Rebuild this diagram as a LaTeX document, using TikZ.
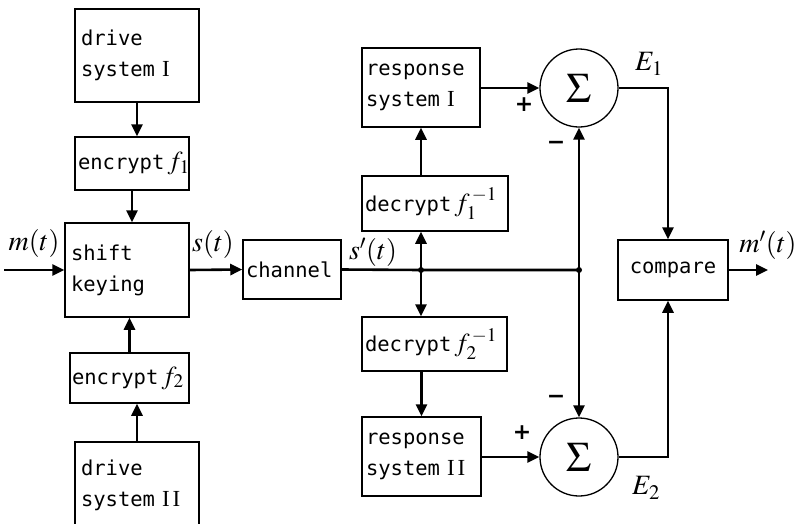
\documentclass[tikz,border=0pt]{standalone}
\usepackage{mathptmx}
\usepackage{fontspec}
\setmonofont{DejaVu Sans Mono}
\newfontfamily\rmn{Liberation Serif}
\newfontfamily\sansf{DejaVu Sans}
\usetikzlibrary{arrows.meta}
\tikzset{
 box/.style={draw,line width=1.5pt,inner xsep=6pt,inner ysep=0pt,align=left,font=\fontsize{20.5}{31}\selectfont\ttfamily},
 sumnode/.style={draw,circle,line width=1.3pt,minimum size=78pt,inner sep=0pt,font=\fontsize{42}{42}\selectfont},
 conn/.style={line width=2.6pt,-{Triangle[length=12pt,width=11pt]}},
 wire/.style={line width=2.6pt},
 lab/.style={font=\fontsize{28}{28}\selectfont,inner sep=0pt},
 sign/.style={font=\fontsize{22}{22}\selectfont\sansf\bfseries,inner sep=0pt},
 jdot/.style={circle,fill,inner sep=0pt,minimum size=6pt}
}
\newcommand{\bigf}[1]{{\fontsize{26}{26}\selectfont$#1$}}
\newcommand{\rnum}[1]{\hspace{7pt}{\fontsize{23}{23}\selectfont\rmn #1}}
\begin{document}
\begin{tikzpicture}[x=1pt,y=-1pt]
\useasboundingbox (0,0) rectangle (801,523);
\clip (0,0) rectangle (801,523);
% left column
\node[box,text width=112pt,minimum height=93pt] (d1) at (137,55.5) {drive\\system\rnum{I}};
\node[box,text width=102pt,minimum height=53pt,inner xsep=3pt,text width=108pt] (e1) at (132,163.5) {encrypt\,\bigf{f_1}};
\node[box,text width=112pt,minimum height=94pt] (sk) at (127,270) {shift\\keying};
\node[box,minimum height=50pt,inner xsep=2pt,text width=115pt] (e2) at (129.5,378) {encrypt\,\bigf{f_2}};
\node[box,text width=112pt,minimum height=86pt] (d2) at (137,485) {drive\\system\rnum{I\hspace{3pt}I}};
% channel
\node[box,text width=92pt,inner xsep=3pt,minimum height=59pt] (ch) at (292,269.5) {channel};
% receivers
\node[box,text width=110pt,inner xsep=4pt,minimum height=79pt] (r1) at (421,87.5) {response\\system\rnum{I}};
\node[box,text width=140pt,inner xsep=3pt,minimum height=55pt] (df1) at (435,203.5) {decrypt\,\bigf{f_1^{\,-1}}};
\node[box,text width=139pt,inner xsep=3pt,minimum height=54pt] (df2) at (434.5,344) {decrypt\,\bigf{f_2^{\,-1}}};
\node[box,text width=111pt,inner xsep=4pt,minimum height=79pt] (r2) at (421.5,456.5) {response\\system\rnum{I\hspace{3pt}I}};
% sums and compare
\node[sumnode] (s1) at (579,88) {$\Sigma$};
\node[sumnode] (s2) at (579,457) {$\Sigma$};
\node[box,text width=98pt,minimum height=60pt,align=center] (cmp) at (673,270) {compare};
% junctions and free ends
\node[jdot] (j1) at (421,270) {};
\node[jdot] (j2) at (579,270) {};
\coordinate (in) at (4,270);
\coordinate (out) at (768,270);
% connectors left
\draw[conn] (d1.south) -- (d1.south |- e1.north);
\draw[conn] (e1.south) -- (e1.south |- sk.north);
\draw[conn] (e2.north) -- (e2.north |- sk.south);
\draw[conn] (d2.north) -- (d2.north |- e2.south);
\draw[conn] (in) -- (sk.west);
\draw[conn] (sk.east) -- (ch.west);
% channel output
\draw[wire] (ch.east) -- (j1.center) -- (j2.center);
\draw[conn] (j1.center) -- (j1 |- df1.south);
\draw[conn] (r1.south |- df1.north) -- (r1.south);
\draw[conn] (j1.center) -- (j1 |- df2.north);
\draw[conn] (r2.north |- df2.south) -- (r2.north);
\draw[conn] (r1.east |- s1.west) -- (s1.west);
\draw[conn] (r2.east |- s2.west) -- (s2.west);
\draw[conn] (j2.center) -- (s1.south);
\draw[conn] (j2.center) -- (s2.north);
\draw[conn] (s1.east) -| ([xshift=-5pt]cmp.north);
\draw[conn] (s2.east) -| ([xshift=-5pt]cmp.south);
\draw[conn] (cmp.east) -- (out);
% labels
\node[lab] (lm) at (34,243) {$m(t)$};
\node[lab] (ls) at (213,244) {$s(t)$};
\node[lab] (lsp) at (373,252) {$s'(t)$};
\node[lab] (lmp) at (768,245) {$m'(t)$};
\node[lab] (le1) at (649,64) {$E_1$};
\node[lab] (le2) at (646,488) {$E_2$};
\node[sign] (p1) at (524,105) {+};
\node[sign] (m1) at (556,145) {−};
\node[sign] (p2) at (522,433) {+};
\node[sign] (m2) at (556,399) {−};
\end{tikzpicture}
\end{document}
